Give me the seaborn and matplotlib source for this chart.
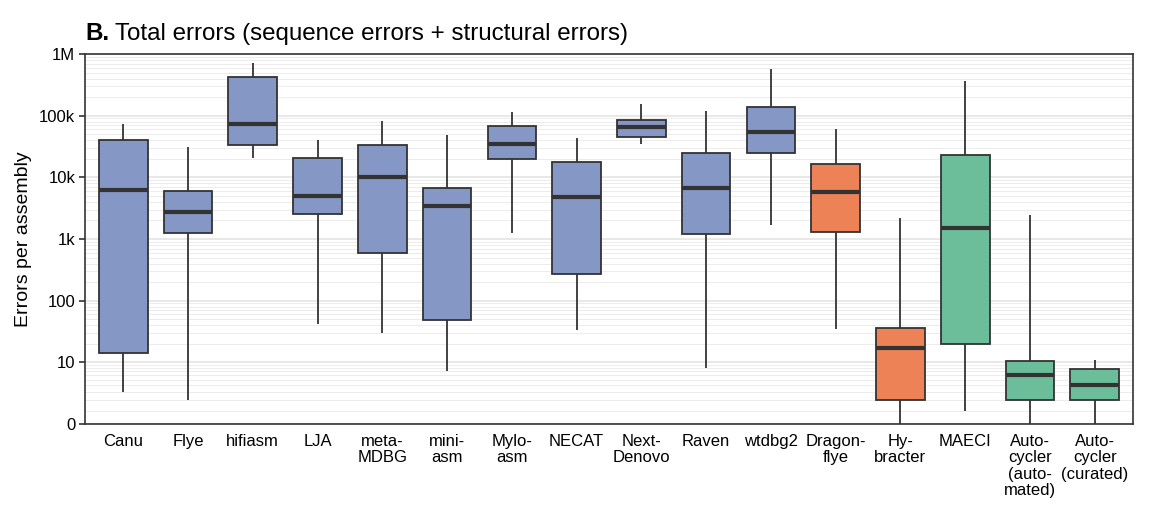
import numpy as np
import pandas as pd
import matplotlib
matplotlib.use("Agg")
import matplotlib.pyplot as plt
import seaborn as sns

categories = ["Canu", "Flye", "hifiasm", "LJA", "meta-\nMDBG", "mini-\nasm", "Mylo-\nasm",
              "NECAT", "Next-\nDenovo", "Raven", "wtdbg2", "Dragon-\nflye", "Hy-\nbracter",
              "MAECI", "Auto-\ncycler\n(auto-\nmated)", "Auto-\ncycler\n(curated)"]
groups = ["long", "long", "long", "long", "long", "long", "long", "long", "long", "long",
          "long", "hybrid", "hybrid", "consensus", "consensus", "consensus"]
whisker_low = [3.0, 2.0, 20300, 42, 30, 7.0, 1240, 33, 34300, 8.0, 1690, 35, 0, 1.0, 0, 0]
q1 = [13.9, 1240, 33000, 2510, 593, 49, 19800, 274, 45600, 1220, 25100, 1280, 2.0, 19.8, 2.0, 2.0]
median = [6300, 2740, 73000, 4980, 10000, 3470, 35200, 4860, 65500, 6800, 54300, 5780, 16.8, 1530, 6.0, 4.0]
q3 = [40800, 6000, 424000, 20800, 33400, 6800, 68900, 17900, 86000, 25100, 140000, 16500, 35.6, 23000, 10.3, 7.6]
whisker_high = [73000, 30600, 706000, 40800, 83000, 48600, 115000, 42900, 155000, 117500, 578000,
                60000, 2190, 361000, 2450, 10.8]

ytick_values = [0, 10, 100, 1e3, 1e4, 1e5, 1e6]
ytick_labels = ["0", "10", "100", "1k", "10k", "100k", "1M"]

palette = {"long": "#8597C5", "hybrid": "#EC8256", "consensus": "#6CBE9B"}

rows = []
for i, c in enumerate(categories):
    for v in (whisker_low[i], q1[i], median[i], q3[i], whisker_high[i]):
        rows.append({"assembler": c, "group": groups[i], "errors": v})
df = pd.DataFrame(rows)

sns.set_theme(style="white")
plt.rcParams["font.family"] = ["Liberation Sans", "DejaVu Sans"]
plt.rcParams["text.color"] = "black"

fig = plt.figure(figsize=(11.57, 5.19), dpi=100)
ax = fig.add_axes([85 / 1157, 1 - 424 / 519, (1133 - 85) / 1157, (424 - 54) / 519])

ln10 = np.log(10)
fwd = lambda x: np.arcsinh(np.asarray(x, dtype=float) / 2) / ln10
inv = lambda y: 2 * np.sinh(np.asarray(y, dtype=float) * ln10)
ax.set_yscale("function", functions=(fwd, inv))

edge = "#333333"
sns.boxplot(data=df, x="assembler", y="errors", hue="group", palette=palette,
            order=categories, dodge=False, legend=False, whis=np.inf, width=0.75,
            linecolor=edge, linewidth=1.3, showcaps=False,
            medianprops={"linewidth": 3.0, "color": edge},
            whiskerprops={"linewidth": 1.3, "color": edge},
            boxprops={"linewidth": 1.3, "edgecolor": edge},
            saturation=1, ax=ax)

ax.set_ylim(0, 1e6)
ax.set_xlim(-0.59, len(categories) - 0.41)

minor_vals = [m * 10 ** k for k in range(0, 6) for m in range(1, 10) if not (m == 1 and k > 0)]
ax.set_yticks(ytick_values, labels=ytick_labels)
ax.set_yticks(minor_vals, minor=True)
ax.tick_params(axis="y", which="major", length=4, width=1.2, color=edge, labelsize=12,
               labelcolor="black", pad=3, left=True)
ax.tick_params(axis="y", which="minor", length=0)
ax.tick_params(axis="x", length=0, labelsize=12, labelcolor="black", pad=7)
for lbl in ax.get_xticklabels():
    lbl.set_linespacing(1.13)
    lbl.set_va("top")

ax.grid(False)
ax.grid(which="major", axis="y", color="#e2e2e2", linewidth=1.1)
ax.grid(which="minor", axis="y", color="#ececec", linewidth=0.7)
ax.set_axisbelow(True)

for s in ax.spines.values():
    s.set_visible(True)
    s.set_color(edge)
    s.set_linewidth(1.2)

ax.set_xlabel("")
ax.set_ylabel("Errors per assembly", fontsize=14, color="black", labelpad=5)

t1 = fig.text(85 / 1157, 1 - 40 / 519, "B.", fontsize=17.4, fontweight="bold",
              va="baseline", color="black")
fig.canvas.draw()
bb = t1.get_window_extent()
fig.text((bb.x1 + 6) / 1157, 1 - 40 / 519, "Total errors (sequence errors + structural errors)",
         fontsize=17.4, va="baseline", color="black")

fig.savefig("out.png", dpi=100)
